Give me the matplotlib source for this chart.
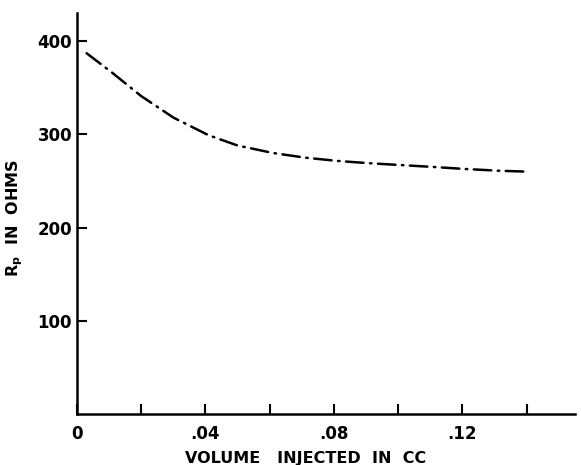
import matplotlib.pyplot as plt

# values
volume = [0.003, 0.011, 0.020, 0.030, 0.041, 0.050, 0.061, 0.071,
          0.081, 0.091, 0.101, 0.111, 0.120, 0.131, 0.140]
rp = [387, 366, 341, 318, 299, 288, 280, 275,
      271.5, 269, 267, 265, 263, 261, 260]

x_ticks = [0, 0.02, 0.04, 0.06, 0.08, 0.10, 0.12, 0.14]
x_labels = ['0', '', '.04', '', '.08', '', '.12', '']
y_ticks = [100, 200, 300, 400]

plt.rcParams['font.family'] = 'DejaVu Sans'
plt.rcParams['font.weight'] = 'bold'
plt.rcParams['mathtext.default'] = 'bf'

fig = plt.figure(figsize=(5.81, 4.65), dpi=100)
ax = fig.add_axes([0.1325, 0.1097, 0.857, 0.862])

line, = ax.plot(volume, rp, color='black', lw=1.8, dash_capstyle='round')
line.set_dashes((7, 2.6, 0.6, 2.6))

ax.set_xlim(0, 0.155)
ax.set_ylim(0, 430)
ax.set_xticks(x_ticks)
ax.set_xticklabels(x_labels)
ax.set_yticks(y_ticks)
ax.tick_params(direction='in', length=7, width=1.5, labelsize=12)
ax.tick_params(axis='y', pad=3.5)
ax.tick_params(axis='x', pad=8)

for s in ['top', 'right']:
    ax.spines[s].set_visible(False)
for s in ['left', 'bottom']:
    ax.spines[s].set_linewidth(1.8)

ax.set_xlabel('VOLUME   INJECTED  IN  CC', fontsize=11.5, fontweight='bold')
ax.xaxis.set_label_coords(0.46, -0.092)
ax.set_ylabel('R$_p$  IN  OHMS', fontsize=11.5, fontweight='bold')
ax.yaxis.set_label_coords(-0.104, 0.49)

fig.savefig('out.png', dpi=100)
